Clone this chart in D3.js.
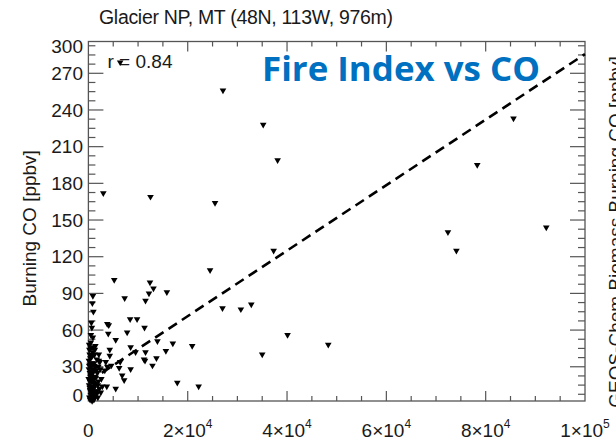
<!DOCTYPE html>
<html><head><meta charset="utf-8">
<script src="https://cdn.jsdelivr.net/npm/d3@7"></script>
<style>body{margin:0;background:#fff}svg{display:block}</style>
</head><body><svg id="c" width="616" height="441"></svg>
<script>
// ---- data ----
const titleText = "Glacier NP, MT (48N, 113W, 976m)";
const overlayTitle = "Fire Index vs CO";
const corrText = "r = 0.84";
const yAxisTitle = "Burning CO [ppbv]";
const neighbourLabel = "GEOS-Chem Biomass Burning CO [ppbv]";
const xDomain = [0, 100000];
const yDomain = [2, 296];
const xMajorTicks = [0, 20000, 40000, 60000, 80000, 100000];
const xTickBase = ["0", "2×10", "4×10", "6×10", "8×10", "1×10"];
const xTickExp  = ["", "4", "4", "4", "4", "5"];
const xMinorStep = 5000;
const yMajorTicks = [0, 30, 60, 90, 120, 150, 180, 210, 240, 270, 300];
const yTickLabels = ["0","30","60","90","120","150","180","210","240","270","300"];
const yMinorStep = 7.5;
const fireIndex = [
 6400,27100,35200,38100,3000,12500,25500,37300,24500,5200,
 85600,78300,72400,92200,74100,
 12400,13100,12200,11500,15800,27000,30700,32800,40100,48300,35000,
 11300,13900,17000,20900,11500,15600,11200,13700,12900,17900,22200,
 7300,8400,9800,3800,4100,4000,5500,7800,8500,9500,4300,1300,4300,2100,3500,4600,6200,8500,3800,3300,6800,7200,3700,5500,6400,11400,
 900,1000,600,700,500,900,800,
 200,400,150,600,800,300,1000,500,700,1200,100,900,1400,250,1600,450,1100,350,1800,650,1300,50,850,1500,2000,550,1700,750,950,1250,2200,150,400,1900,2400,300,1050,600,2100,800,1400,250,2600,1150,500,700,
 100,300,500,700,900,1100,1300,200,400,600,800,1000,1200,1500,1700,2300,2800,350,650,950,1250,1600,2000,450,750,150,550,850,1900,2500
];
const burningCO = [
 279,256,228,199,172,169,164,125,109,101,
 233,195,140,144,125,
 99,94,90,84,91,78,77,81,56,48,40,
 62,51,49,47,42,43,36,37,31,17,14,
 86,69,69,65,64,57,52,58,46,42,44,44,39,35,34,31,29,28,30,27,23,19,14,12,34,35,
 88,75,66,62,56,54,82,
 5,10,15,8,20,25,12,30,18,22,35,28,15,40,10,45,33,3,25,38,6,20,42,30,18,14,36,2,8,40,12,48,22,5,28,32,17,26,40,11,47,13,20,4,50,33,
 28,18,7,24,32,3,16,44,37,13,9,26,31,21,8,34,14,11,4,19,10,27,30,23,6,31,39,46,15,9
];
const fitX = [0, 100000];
const fitY = [17.8, 285.7];

// ---- drawing ----
const svg = d3.select("#c");
const x = d3.scaleLinear().domain(xDomain).range([88.4, 585]);
const y = d3.scaleLinear().domain(yDomain).range([401, 41.5]);
const axisCol = "#555";
const txtCol = "#1a1a1a";
const font = "Liberation Sans, Arial, sans-serif";

svg.append("text").attr("x", 99).attr("y", 24)
  .attr("font-family", font).attr("font-size", 19.5)
  .attr("textLength", 294).attr("lengthAdjust", "spacing")
  .attr("fill", txtCol).text(titleText);

// neighbouring panel's axis title, clipped at the right edge
svg.append("text").attr("transform", `translate(622,232) rotate(-90)`)
  .attr("text-anchor", "middle").attr("font-family", font)
  .attr("font-size", 19).attr("fill", txtCol).text(neighbourLabel);

// box
svg.append("rect").attr("x", x(xDomain[0])).attr("y", y(yDomain[1]))
  .attr("width", x(xDomain[1]) - x(xDomain[0])).attr("height", y(yDomain[0]) - y(yDomain[1]))
  .attr("fill", "none").attr("stroke", axisCol).attr("stroke-width", 1.3);

const inside = (v, d) => v > d[0] && v < d[1];
const xMinor = d3.range(xDomain[0], xDomain[1] + 1, xMinorStep).filter(v => !xMajorTicks.includes(v) && inside(v, xDomain));
const xMaj = xMajorTicks.filter(v => inside(v, xDomain));
const yMinor = d3.range(0, 300.01, yMinorStep).filter(v => !yMajorTicks.includes(v) && inside(v, yDomain));
const yMaj = yMajorTicks.filter(v => inside(v, yDomain));

function ticksX(vals, len) {
  const g = svg.append("g").attr("stroke", axisCol).attr("stroke-width", 1.2);
  vals.forEach(v => {
    g.append("line").attr("x1", x(v)).attr("x2", x(v)).attr("y1", y.range()[0]).attr("y2", y.range()[0] - len);
    g.append("line").attr("x1", x(v)).attr("x2", x(v)).attr("y1", y.range()[1]).attr("y2", y.range()[1] + len);
  });
}
function ticksY(vals, len) {
  const g = svg.append("g").attr("stroke", axisCol).attr("stroke-width", 1.2);
  vals.forEach(v => {
    g.append("line").attr("y1", y(v)).attr("y2", y(v)).attr("x1", x.range()[0]).attr("x2", x.range()[0] + len);
    g.append("line").attr("y1", y(v)).attr("y2", y(v)).attr("x1", x.range()[1]).attr("x2", x.range()[1] - len);
  });
}
ticksX(xMinor, 5); ticksX(xMaj, 10);
ticksY(yMinor, 7); ticksY(yMaj, 15);

// y tick labels
const yc = y.copy().clamp(true);
yMajorTicks.forEach((v, i) => {
  let py = yc(v);
  if (v <= yDomain[0]) py -= 6;
  else if (v >= yDomain[1]) py += 4.5;
  svg.append("text").attr("x", 83).attr("y", py).attr("dy", "0.35em")
    .attr("text-anchor", "end").attr("font-family", font)
    .attr("font-size", 19).attr("fill", txtCol).text(yTickLabels[i]);
});
// x tick labels
xMajorTicks.forEach((v, i) => {
  const t = svg.append("text").attr("x", x(v)).attr("y", 437)
    .attr("text-anchor", "middle").attr("font-family", font)
    .attr("font-size", 19).attr("fill", txtCol);
  t.append("tspan").text(xTickBase[i]);
  if (xTickExp[i]) t.append("tspan").attr("dy", -9).attr("font-size", 12).text(xTickExp[i]);
});

// y axis title
svg.append("text").attr("transform", `translate(36,${(y.range()[0]+y.range()[1])/2 + 7}) rotate(-90)`)
  .attr("text-anchor", "middle").attr("font-family", font)
  .attr("font-size", 19).attr("fill", txtCol).text(yAxisTitle);

// fit line
svg.append("line").attr("x1", x(fitX[0])).attr("y1", y(fitY[0])).attr("x2", x(fitX[1])).attr("y2", y(fitY[1]))
  .attr("stroke", "#000").attr("stroke-width", 2.6).attr("stroke-dasharray", "10,6");

// r text
svg.append("text").attr("x", 107.5).attr("y", 67.5)
  .attr("font-family", font).attr("font-size", 19)
  .attr("fill", txtCol).text(corrText);

// points
const sym = d3.symbol(d3.symbolTriangle, 19);
svg.append("g").selectAll("path").data(fireIndex.map((v, i) => [v, burningCO[i]]))
  .join("path").attr("d", sym)
  .attr("transform", d => `translate(${x(d[0])},${y(d[1])}) rotate(180)`)
  .attr("fill", "#000");

// overlay title
svg.append("text").attr("x", 262).attr("y", 80.5)
  .attr("font-family", "Open Sans, Lato, sans-serif").attr("font-weight", "bold")
  .attr("font-size", 34).attr("textLength", 278).attr("lengthAdjust", "spacingAndGlyphs")
  .attr("fill", "#0070C0").text(overlayTitle);
</script></body></html>
